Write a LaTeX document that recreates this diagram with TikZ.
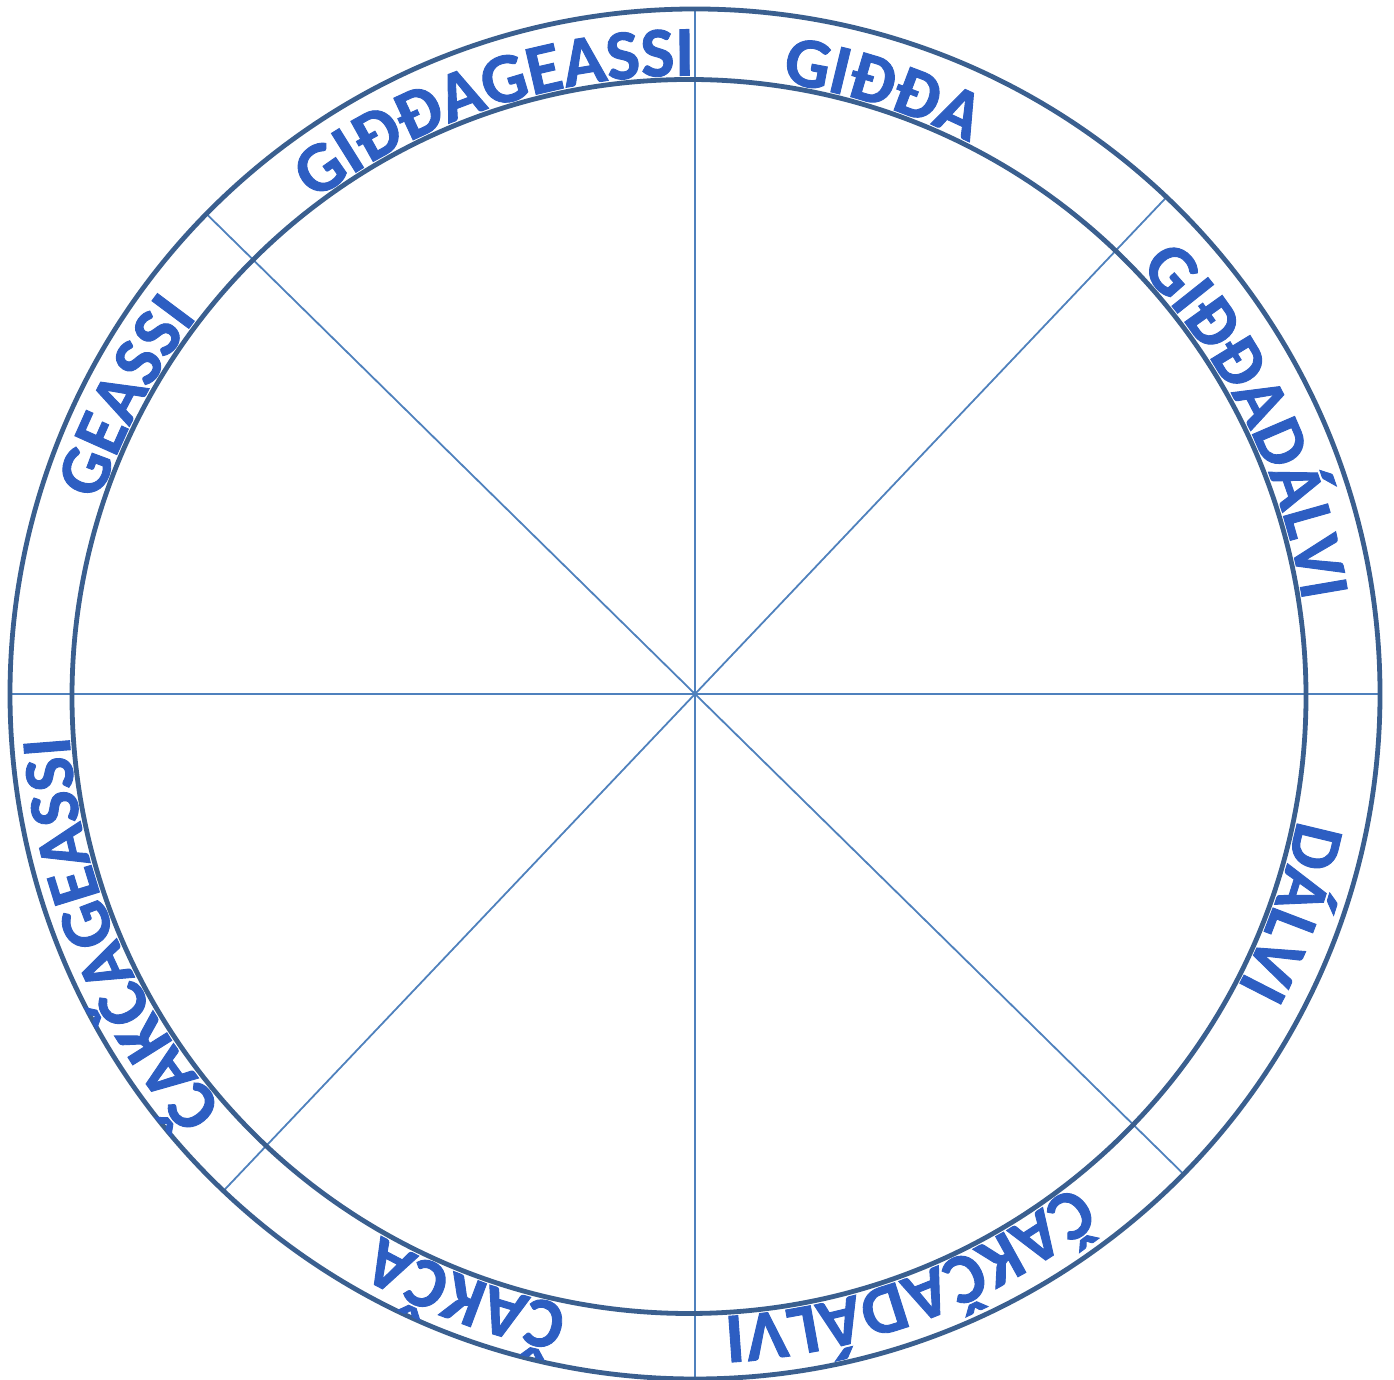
\documentclass[tikz,border=0pt]{standalone}
\usepackage{fontspec}
\setmainfont{Carlito}
\newfontfamily\seasonfam{Carlito}[FakeBold=1.3]
\usetikzlibrary{decorations.text,calc}
\definecolor{ringline}{HTML}{3A5F8F}
\definecolor{spoke}{HTML}{4F81BD}
\definecolor{seasontext}{HTML}{2D5EC2}
\newcommand\seasonfont{\seasonfam\fontsize{71}{80}\selectfont\bfseries}
\newcommand\seasonarc[2]{%
  \path[shift={(IC)},decorate,decoration={text along path,text align=center,
    text color=seasontext,text={|\seasonfont|#2}}]
    (#1+25:621pt) arc[start angle=#1+25,end angle=#1-25,radius=621pt];}
\begin{document}
\begin{tikzpicture}[x=1pt,y=1pt,
  ring/.style={draw=ringline,line width=4.8pt},
  spokeline/.style={draw=spoke,line width=1.8pt}]
\useasboundingbox (0,0) rectangle (1394,1380);
\coordinate (OC) at (695,686);
\coordinate (IC) at (689,683.5);
% spokes
\foreach \a in {0,46.5,90,135.5}{
  \draw[spokeline] ($(OC)+(\a:685pt)$) -- ($(OC)+(\a+180:685pt)$);
}
% rings
\draw[ring] (OC) circle[radius=685pt];
\draw[ring] (IC) circle[radius=617pt];
% labels
\seasonarc{108.3}{GIĐĐAGEASSI}
\seasonarc{72.3}{GIĐĐA}
\seasonarc{26.2}{GIĐĐADÁLVI}
\seasonarc{-19.7}{DÁLVI}
\seasonarc{-69.3}{ČAKČADÁLVI}
\seasonarc{249.5}{ČAKČA}
\seasonarc{202.5}{ČAKČAGEASSI}
\seasonarc{152}{GEASSI}
\end{tikzpicture}
\end{document}
